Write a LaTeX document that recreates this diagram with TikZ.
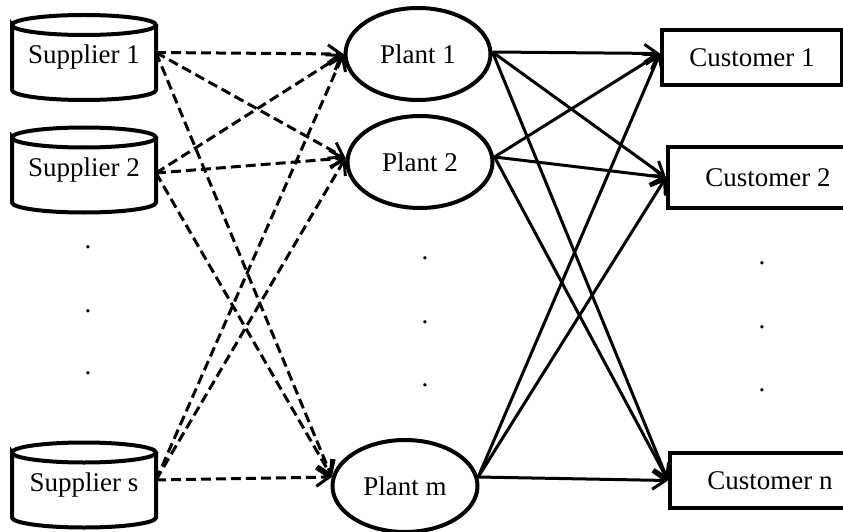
\documentclass[tikz,border=0pt]{standalone}
\usepackage{fontspec}
\setmainfont{Liberation Serif}
\usetikzlibrary{arrows.meta,shapes.geometric}
\begin{document}
\begin{tikzpicture}[x=1pt,y=-1pt,
  every node/.style={font=\fontsize{27}{31}\selectfont},
  supbox/.style={inner sep=0pt, outer sep=0pt, minimum width=144pt, minimum height=85pt},
  plantbox/.style={ellipse, draw, line width=4pt, inner sep=0pt, minimum width=145pt, minimum height=92pt},
  custbox/.style={rectangle, draw, line width=4pt, inner sep=0pt},
  dotnode/.style={inner sep=0pt},
  cyl/.style={line width=4pt},
  supply/.style={line width=3pt, dash pattern=on 10pt off 5pt, -{Straight Barb[length=13pt,width=18pt]}},
  ship/.style={line width=3pt, -{Straight Barb[length=13pt,width=18pt]}}
]
\useasboundingbox (0,0) rectangle (843,532);

% suppliers
\node[supbox] (s1) at (84,57.5) {Supplier 1};
\node[supbox] (s2) at (84,170) {Supplier 2};
\node[supbox] (ss) at (84,485) {Supplier s};
\foreach \n in {s1,s2,ss}{
  \draw[cyl] ([yshift=-10pt]\n.north west)
    arc[start angle=180, end angle=-180, x radius=72pt, y radius=10pt]
    -- ([yshift=10pt]\n.south west)
    arc[start angle=180, end angle=360, x radius=72pt, y radius=10pt]
    -- ([yshift=-10pt]\n.north east);
}

% plants
\node[plantbox] (p1) at (418,54) {Plant 1};
\node[plantbox] (p2) at (420,162) {Plant 2};
\node[plantbox] (pm) at (405,486) {Plant m};

% customers
\node[custbox, minimum width=180pt, minimum height=55pt] (c1) at (752,57.5) {Customer 1};
\node[custbox, minimum width=200pt, minimum height=61pt] (c2) at (768,177.5) {Customer 2};
\node[custbox, minimum width=200pt, minimum height=55pt] (cn) at (770,480.5) {Customer n};

% dots
\node[dotnode] (d1) at (88,247) {.};
\node[dotnode] (d2) at (88,311) {.};
\node[dotnode] (d3) at (88,373) {.};
\node[dotnode] (d4) at (425,258) {.};
\node[dotnode] (d5) at (425,322) {.};
\node[dotnode] (d6) at (425,385) {.};
\node[dotnode] (d7) at (762,263) {.};
\node[dotnode] (d8) at (762,327) {.};
\node[dotnode] (d9) at (762,390) {.};

% supplier -> plant
\draw[supply] ([yshift=5pt]s1.east) -- (p1.west);
\draw[supply] ([yshift=5pt]s1.east) -- ([yshift=4pt]p2.west);
\draw[supply] ([yshift=5pt]s1.east) -- (pm.173);
\draw[supply] ([yshift=-3pt]s2.east) -- (p1.west);
\draw[supply] ([yshift=-3pt]s2.east) -- ([yshift=4pt]p2.west);
\draw[supply] ([yshift=-3pt]s2.east) -- (pm.173);
\draw[supply] ([yshift=5pt]ss.east) -- (p1.west);
\draw[supply] ([yshift=5pt]ss.east) -- ([yshift=4pt]p2.west);
\draw[supply] ([yshift=5pt]ss.east) -- (pm.173);

% plant -> customer
\draw[ship] ([yshift=2pt]p1.east) -- ([yshift=4pt]c1.west);
\draw[ship] ([yshift=2pt]p1.east) -- (c2.west);
\draw[ship] ([yshift=2pt]p1.east) -- (cn.west);
\draw[ship] ([yshift=5pt]p2.east) -- ([yshift=4pt]c1.west);
\draw[ship] ([yshift=5pt]p2.east) -- (c2.west);
\draw[ship] ([yshift=5pt]p2.east) -- (cn.west);
\draw[ship] (pm.7) -- ([yshift=4pt]c1.west);
\draw[ship] (pm.7) -- (c2.west);
\draw[ship] (pm.7) -- (cn.west);
\end{tikzpicture}
\end{document}
